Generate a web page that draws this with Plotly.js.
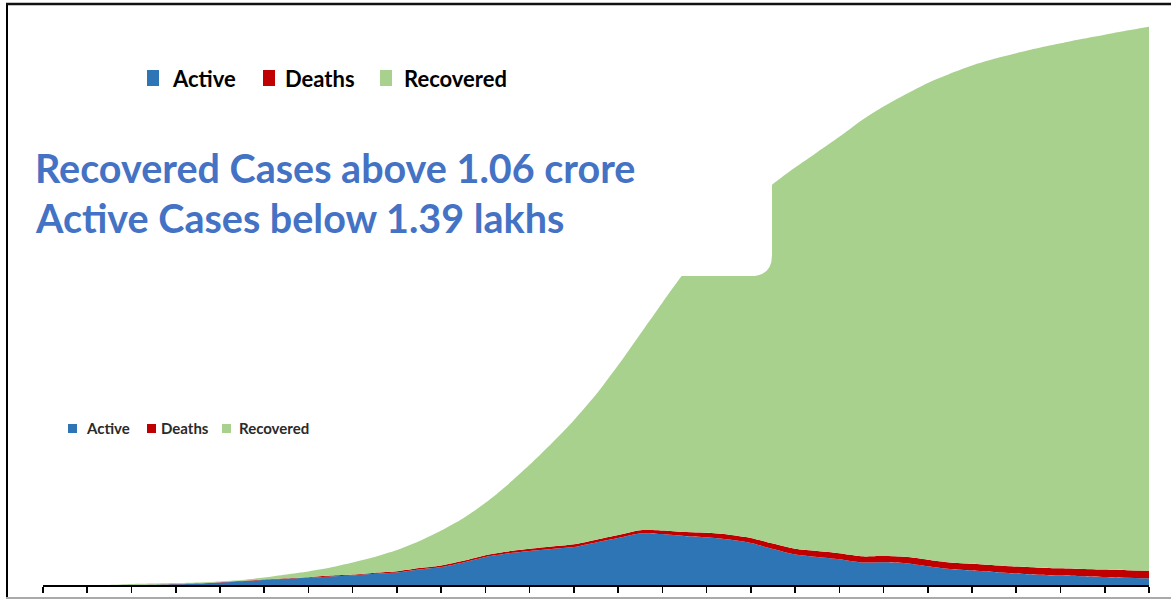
<!DOCTYPE html>
<html>
<head>
<meta charset="utf-8">
<script src="https://cdn.plot.ly/plotly-3.0.1.min.js"></script>
<style>
html,body{margin:0;padding:0;background:#fff;}
#chart{width:1171px;height:600px;}
</style>
</head>
<body>
<div id="chart"></div>
<script>
// Day index (days since start of series), one sample every 7 days
const days = [0,7,14,21,28,35,42,49,56,63,70,77,84,91,98,105,112,119,126,133,140,147,154,161,168,175,182,189,196,203,210,217,224,231,238,245,252,259,266,273,280,287,294,301,308,315,322,329,336,343,350];
// Values in lakh
const active = [0,0,0,0,0,0.06,0.14,0.25,0.47,0.74,0.97,1.21,1.40,1.67,1.85,2.18,2.43,3.02,3.50,4.38,5.45,6.13,6.61,7.00,7.39,8.27,9.14,10.02,9.92,9.53,9.28,8.85,8.17,7.00,5.93,5.45,5.00,4.38,4.42,4.24,3.66,3.11,2.82,2.53,2.24,2.00,1.85,1.71,1.56,1.42,1.30];
const deaths = [0,0,0,0,0,0.04,0.06,0.08,0.08,0.08,0.10,0.10,0.12,0.16,0.19,0.21,0.24,0.27,0.31,0.33,0.35,0.39,0.44,0.48,0.53,0.56,0.60,0.66,0.70,0.78,0.88,0.95,1.00,1.07,1.12,1.15,1.18,1.21,1.23,1.24,1.26,1.28,1.30,1.32,1.35,1.38,1.41,1.42,1.44,1.46,1.48];
const recovered = [0,0,0,0.01,0.19,0.18,0.18,0.16,0.14,0.16,0.39,0.74,1.11,1.56,2.33,3.05,4.13,5.21,6.79,8.29,10.20,12.98,16.35,20.12,24.18,28.27,33.06,38.22,44.38,50.59,55.74,60.60,65.18,70.03,74.25,77.70,81.12,84.91,87.55,90.12,92.88,95.21,97.08,98.65,100.01,101.22,102.24,103.27,104.20,105.12,105.97];

const seriesNames = ["Active","Deaths","Recovered"];
const seriesColors = ["#2E75B6","#C00000","#A9D18E"];
const headline = ["Recovered Cases above 1.06 crore","Active Cases below 1.39 lakhs"];

const W = 1171, H = 600;
const M = {l:43, r:22, t:10, b:15};
const PW = W - M.l - M.r, PH = H - M.t - M.b;
const px = X => (X - M.l) / PW;
const py = Y => (H - M.b - Y) / PH;

const vals = [active, deaths, recovered];
const traces = vals.map((v,i) => ({
  type:'scatter', mode:'lines', x:days, y:v, name:seriesNames[i],
  stackgroup:'one', line:{width:0, color:seriesColors[i], shape:'spline', smoothing:0.7},
  fillcolor:seriesColors[i], hoverinfo:'skip', showlegend:false
}));

const shapes = [];
const annotations = [];

// white rounded box (behind the headline text) covering the upper part of the plot
shapes.push({type:'path', xref:'paper', yref:'paper', layer:'above',
  path:`M ${px(15)},${py(110)} L ${px(772)},${py(110)} L ${px(772)},${py(255)} Q ${px(772)},${py(276)} ${px(751)},${py(276)} L ${px(15)},${py(276)} Z`,
  fillcolor:'#ffffff', line:{width:0}});

// frame: left, top, bottom
shapes.push({type:'line', xref:'paper', yref:'paper', layer:'above', x0:px(7), x1:px(7), y0:py(4), y1:py(598), line:{color:'#000', width:2}});
shapes.push({type:'line', xref:'paper', yref:'paper', layer:'above', x0:px(6), x1:px(1171), y0:py(4), y1:py(4), line:{color:'#111', width:2.5}});
shapes.push({type:'line', xref:'paper', yref:'paper', layer:'above', x0:px(6), x1:px(1171), y0:py(598), y1:py(598), line:{color:'#aaaaaa', width:2}});

// big legend
const bigLeg = [{sx:147, tx:170}, {sx:263, tx:283}, {sx:380, tx:402}];
bigLeg.forEach((p,i) => {
  shapes.push({type:'rect', xref:'paper', yref:'paper', layer:'above', x0:px(p.sx), x1:px(p.sx+12), y0:py(86), y1:py(70), fillcolor:seriesColors[i], line:{width:0}});
  annotations.push({xref:'paper', yref:'paper', x:px(p.tx), y:py(78), xanchor:'left', yanchor:'middle', showarrow:false,
    text:seriesNames[i], font:{family:'Lato, "Liberation Sans Narrow", sans-serif', size:22, color:'#000', weight:'bold'}});
});
// small legend
const smLeg = [{sx:68, tx:84}, {sx:147, tx:159}, {sx:222, tx:237}];
smLeg.forEach((p,i) => {
  shapes.push({type:'rect', xref:'paper', yref:'paper', layer:'above', x0:px(p.sx), x1:px(p.sx+9), y0:py(433), y1:py(424), fillcolor:seriesColors[i], line:{width:0}});
  annotations.push({xref:'paper', yref:'paper', x:px(p.tx), y:py(428), xanchor:'left', yanchor:'middle', showarrow:false,
    text:seriesNames[i], font:{family:'Lato, sans-serif', size:15, color:'#2a2a2a', weight:'bold'}});
});
// headline
headline.forEach((t,i) => {
  annotations.push({xref:'paper', yref:'paper', x:px(33), y:py(167 + i*51), xanchor:'left', yanchor:'middle', showarrow:false,
    text:t, font:{family:'Lato, sans-serif', size:39.5, color:'#4472C4', weight:'bold'}});
});

const layout = {
  width:W, height:H, margin:M, paper_bgcolor:'#fff', plot_bgcolor:'#fff',
  showlegend:false,
  xaxis:{range:[0,350], tick0:0, dtick:14, ticks:'outside', ticklen:6, tickwidth:1.6, tickcolor:'#000',
    showline:true, linecolor:'#000', linewidth:2, showgrid:false, zeroline:false, showticklabels:false, fixedrange:true},
  yaxis:{range:[0,112], visible:false, showgrid:false, zeroline:false, fixedrange:true},
  shapes:shapes, annotations:annotations
};
Plotly.newPlot('chart', traces, layout, {displayModeBar:false, staticPlot:true});
</script>
</body>
</html>
